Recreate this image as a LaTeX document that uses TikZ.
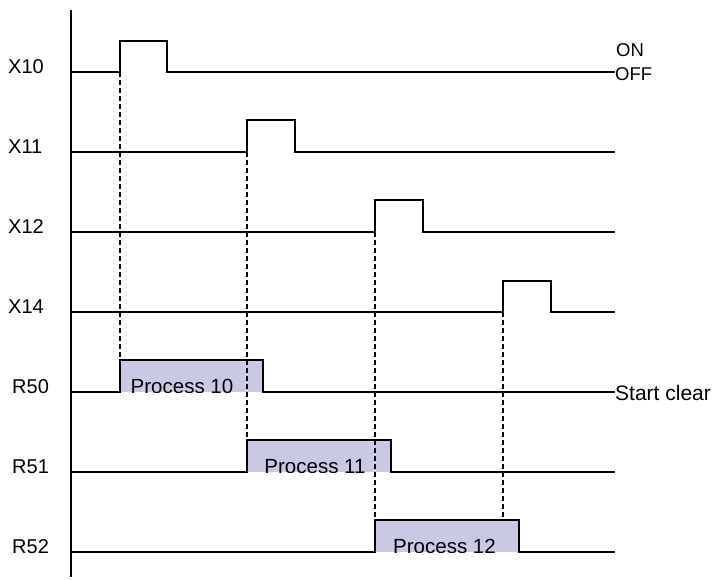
\documentclass[tikz,border=0pt]{standalone}
\usepackage{fontspec}
\setmainfont{Liberation Sans}
\definecolor{procfill}{RGB}{201,201,228}
\begin{document}
\begin{tikzpicture}[x=1pt,y=-1pt,
  sig/.style={line width=1.5pt, line join=miter},
  axisline/.style={line width=1.3pt},
  guide/.style={line width=1.5pt, dash pattern=on 5pt off 3pt},
  procbox/.style={fill=procfill},
  lbl/.style={font=\fontsize{20}{24}\selectfont, inner sep=0pt, anchor=base west},
  ptext/.style={font=\fontsize{20.5}{24}\selectfont, inner sep=0pt, anchor=base}]
\useasboundingbox (0,0) rectangle (713,579);

% process boxes (fill first)
\fill[procbox] (120,392) rectangle (263,360);
\fill[procbox] (247,472) rectangle (391,440);
\fill[procbox] (375,552) rectangle (519,520);

\begin{scope}
\clip (0,0) rectangle (713,392);
\node[ptext] (p10) at (182,393) {Process 10};
\end{scope}
\begin{scope}
\clip (0,0) rectangle (713,472);
\node[ptext] (p11) at (315,473) {Process 11};
\end{scope}
\begin{scope}
\clip (0,0) rectangle (713,552);
\node[ptext] (p12) at (444.5,553) {Process 12};
\end{scope}

% coordinates of the rising edges and box tops
\coordinate (e10) at (120,72);
\coordinate (e11) at (247,152);
\coordinate (e12) at (375,232);
\coordinate (e14) at (503,312);
\coordinate (t50) at (120,360);
\coordinate (t51) at (247,440);
\coordinate (t52) at (375,520);
\coordinate (t52b) at (503,520);

% dashed guides
\draw[guide] (e10) -- (t50);
\draw[guide] (e11) -- (t51);
\draw[guide] (e12) -- (t52);
\draw[guide] (e14) -- (t52b);

% axis
\draw[axisline] (71,10) -- (71,577);

% signals
\draw[sig] (71,72) -- (e10) -- (120,41) -- (167,41) -- (167,72) -- (615,72);
\draw[sig] (71,152) -- (e11) -- (247,120) -- (295,120) -- (295,152) -- (615,152);
\draw[sig] (71,232) -- (e12) -- (375,200) -- (423,200) -- (423,232) -- (615,232);
\draw[sig] (71,312) -- (e14) -- (503,281) -- (551,281) -- (551,312) -- (615,312);
\draw[sig] (71,392) -- (120,392) -- (t50) -- (263,360) -- (263,392) -- (615,392);
\draw[sig] (71,472) -- (247,472) -- (t51) -- (391,440) -- (391,472) -- (615,472);
\draw[sig] (71,552) -- (375,552) -- (t52) -- (519,520) -- (519,552) -- (615,552);

% labels
\node[lbl] (lX10) at (8,73.3) {X10};
\node[lbl] (lX11) at (8,153.3) {X11};
\node[lbl] (lX12) at (8,233.3) {X12};
\node[lbl] (lX14) at (8,313.3) {X14};
\node[lbl] (lR50) at (12,393.3) {R50};
\node[lbl] (lR51) at (12,473.3) {R51};
\node[lbl] (lR52) at (12,553.3) {R52};

\node[lbl, font=\fontsize{18.5}{22}\selectfont] (on) at (616,56.7) {ON};
\node[lbl, font=\fontsize{18.5}{22}\selectfont] (off) at (615,80.7) {OFF};
\node[lbl, font=\fontsize{21}{24}\selectfont] (sc) at (615,400) {Start clear};
\end{tikzpicture}
\end{document}
